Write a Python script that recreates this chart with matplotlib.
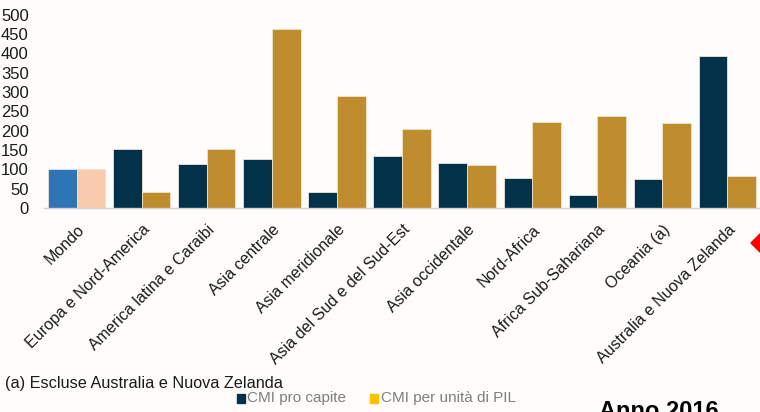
import numpy as np
import matplotlib.pyplot as plt
from matplotlib.patches import Polygon, Rectangle

plt.rcParams['font.family'] = ['Liberation Sans', 'DejaVu Sans']

# ---------------* data *----------------------
regioni = [
    "Mondo",
    "Europa e Nord-America",
    "America latina e Caraibi",
    "Asia centrale",
    "Asia meridionale",
    "Asia del Sud e del Sud-Est",
    "Asia occidentale",
    "Nord-Africa",
    "Africa Sub-Sahariana",
    "Oceania (a)",
    "Australia e Nuova Zelanda",
]
pro_capite = [100, 152, 115, 128, 41, 135, 116, 79, 35, 76, 393]
per_pil = [100, 41, 152, 463, 289, 204, 111, 222, 239, 219, 82]
yticks = [0, 50, 100, 150, 200, 250, 300, 350, 400, 450, 500]

navy = "#02314A"
gold = "#BF8C2E"

# ---------------* figure *----------------------
fig = plt.figure(figsize=(7.6, 4.12), dpi=100, facecolor="#FEFDFC")
ax = fig.add_axes([0.058, 0.495, 0.942, 0.469])
ax.set_facecolor("#FEFDFC")

x = np.arange(len(regioni))
w = 0.44
c1 = [navy] * len(regioni)
c2 = [gold] * len(regioni)
c1[0] = "#2E75B6"
c2[0] = "#F8CBAD"
ax.bar(x - w / 2, pro_capite, w, color=c1, edgecolor="#E8E4DC", linewidth=0.6)
ax.bar(x + w / 2, per_pil, w, color=c2, edgecolor="#F0E4CC", linewidth=0.6)

ax.set_xlim(-0.5, 10.5)
ax.set_ylim(0, 500)
ax.set_yticks(yticks)
ax.set_xticks(x)
ax.set_xticklabels(regioni, rotation=45, ha="right", rotation_mode="anchor",
                   fontsize=11.5, color="#1A1A1A")
ax.tick_params(axis="y", length=0, labelsize=12, labelcolor="#1A1A1A", pad=11)
ax.tick_params(axis="x", length=0, pad=10)
for s in ["top", "right", "left"]:
    ax.spines[s].set_visible(False)
ax.spines["bottom"].set_color("#D0D0D0")
ax.spines["bottom"].set_linewidth(1.0)

# ---------------* notes and legend *----------------------
fig.text(0.007, 0.07, "(a) Escluse Australia e Nuova Zelanda", fontsize=11.7,
         color="#1A1A1A", va="center")
fig.patches.append(Rectangle((0.312, 0.023), 0.011, 0.02, transform=fig.transFigure,
                             color=navy, figure=fig))
fig.text(0.325, 0.033, "CMI pro capite", fontsize=11, color="#7F7F7F", va="center")
fig.patches.append(Rectangle((0.487, 0.023), 0.011, 0.02, transform=fig.transFigure,
                             color="#FFC000", figure=fig))
fig.text(0.501, 0.033, "CMI per unità di PIL", fontsize=11, color="#7F7F7F", va="center")
fig.text(0.788, 0.03, "Anno 2016", fontsize=17, fontweight="bold", color="black", va="top")

fig.patches.append(Polygon([(751 / 760, 1 - 243 / 412), (772 / 760, 1 - 222 / 412),
                            (793 / 760, 1 - 243 / 412), (772 / 760, 1 - 264 / 412)],
                           closed=True, transform=fig.transFigure, color="#FF0000",
                           figure=fig))

fig.savefig("out.png", dpi=100, facecolor=fig.get_facecolor())
